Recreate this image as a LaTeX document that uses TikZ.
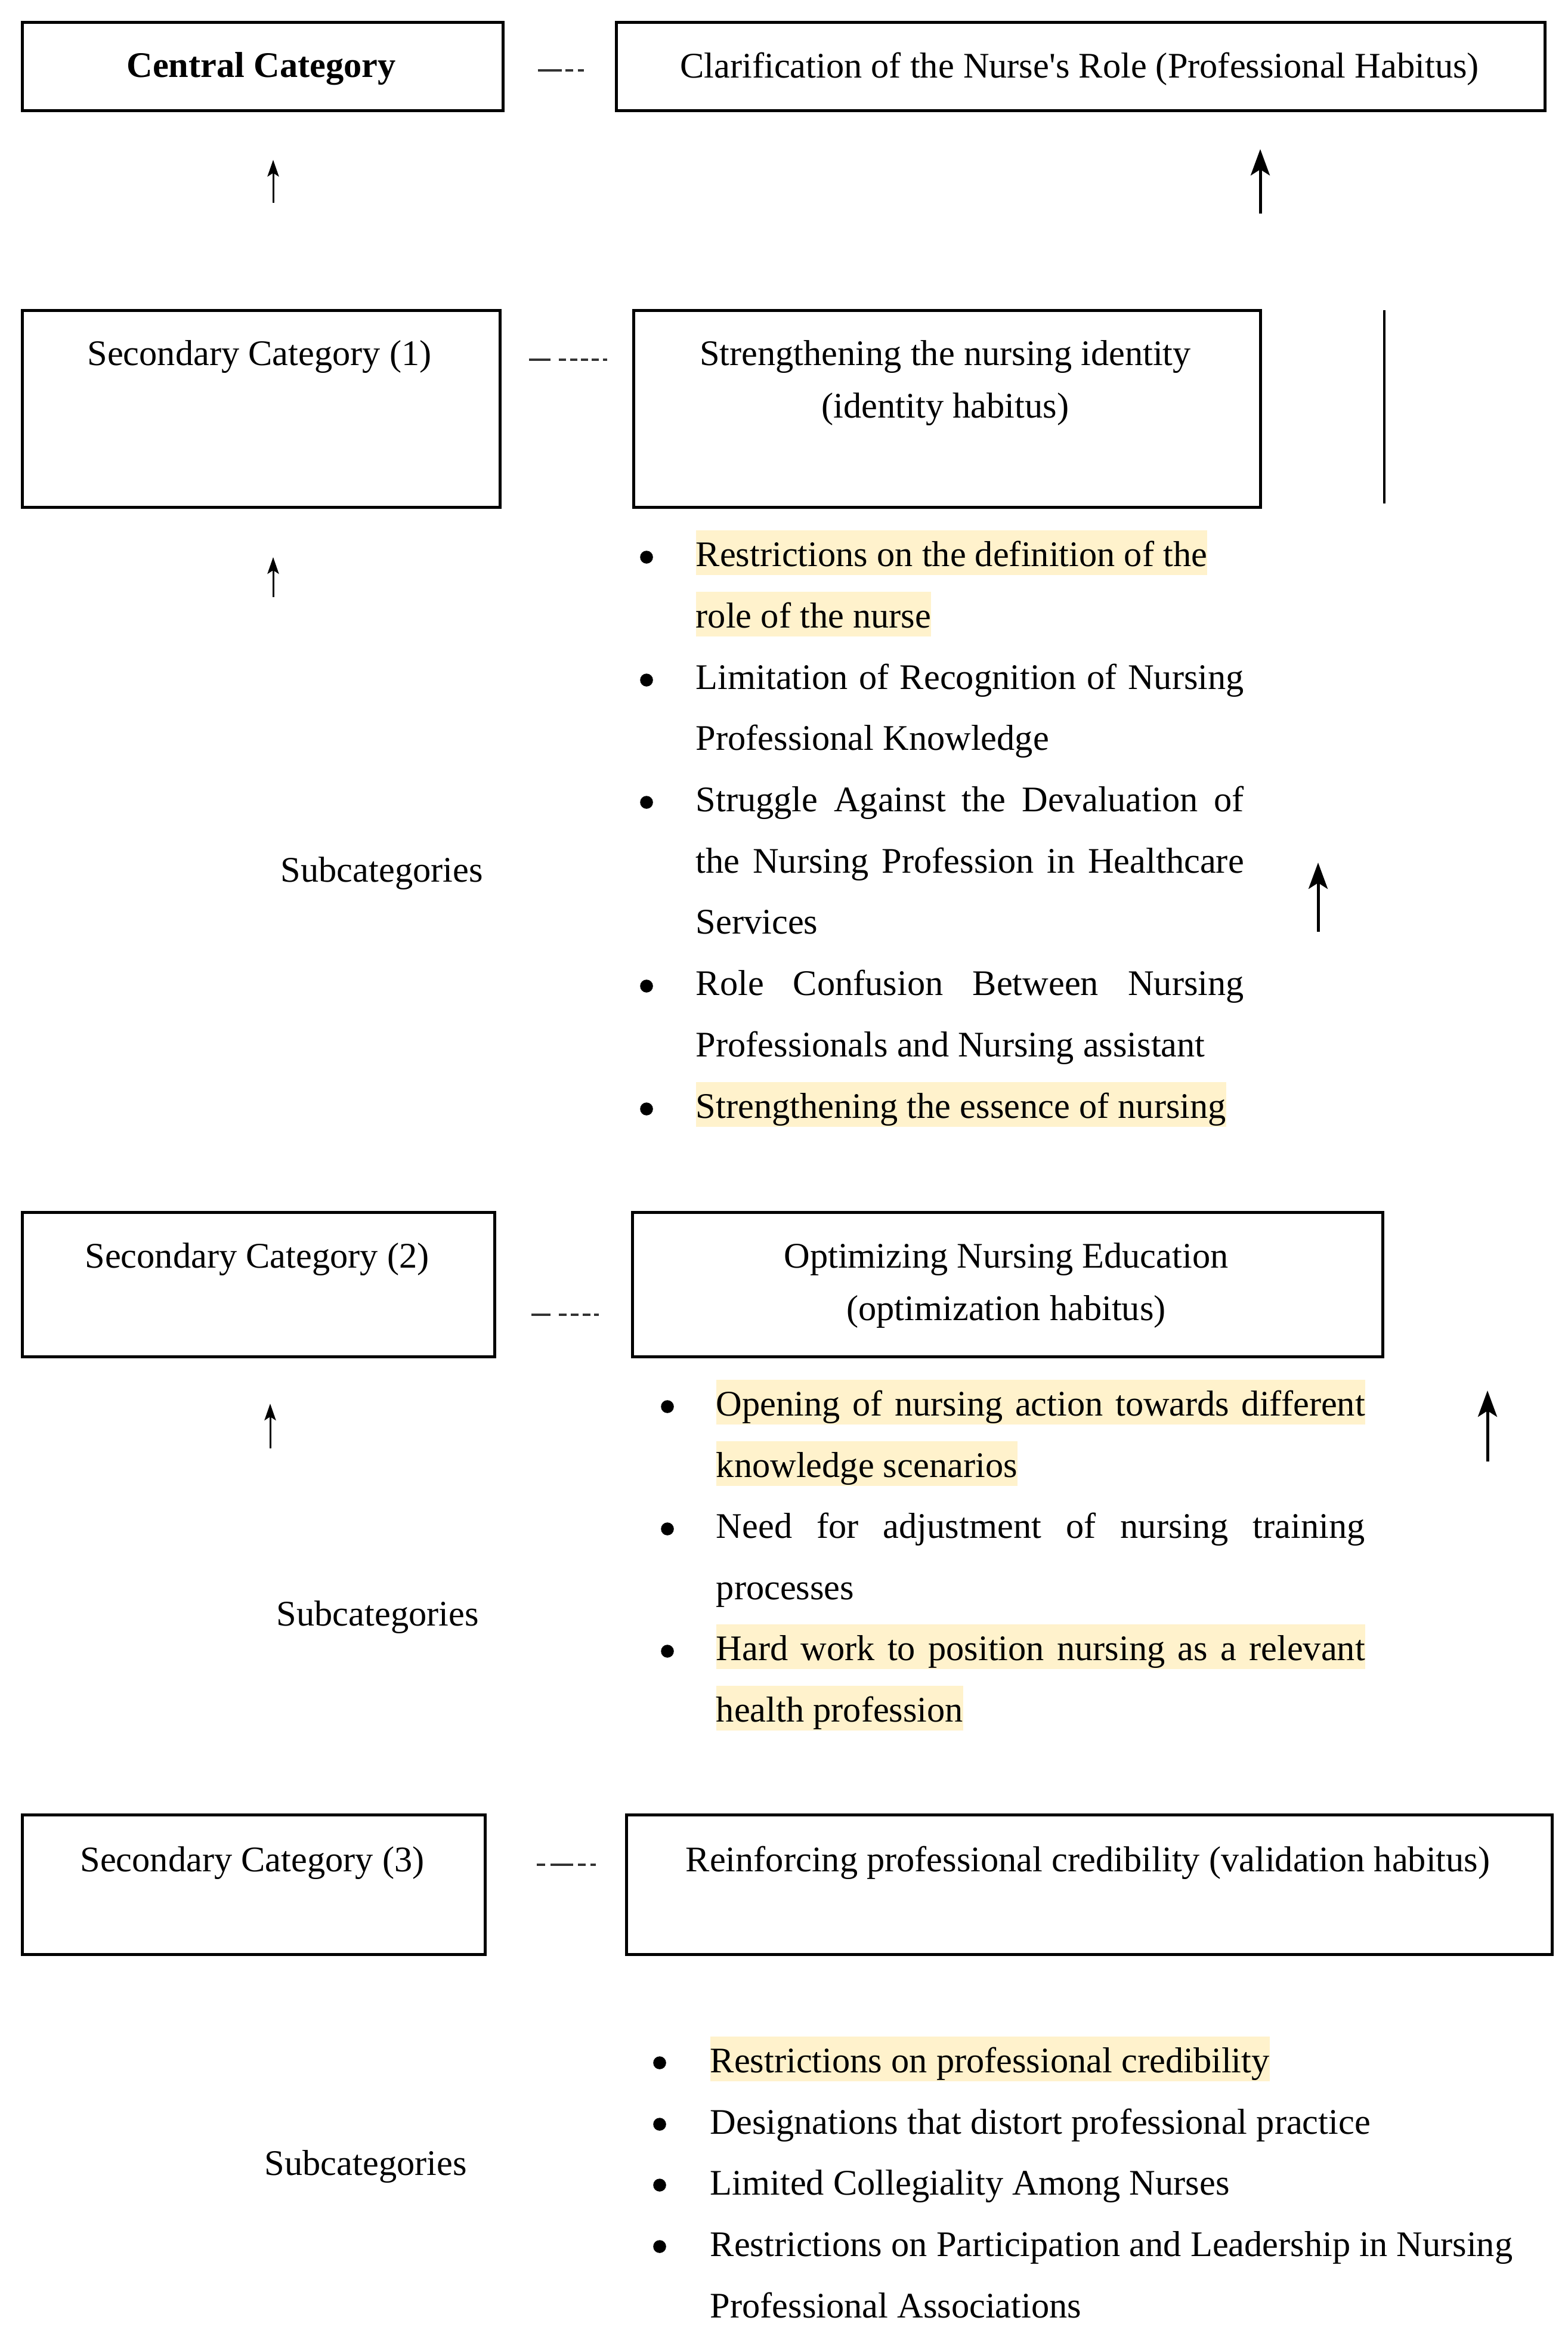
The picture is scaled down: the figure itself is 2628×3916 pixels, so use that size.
\documentclass[tikz,border=0pt]{standalone}
\usepackage{fontspec}
\setmainfont{Liberation Serif}
\usetikzlibrary{arrows.meta,calc}
\definecolor{hl}{HTML}{FFF2CC}
\newcommand{\jA}[1]{\makebox[229.75pt][s]{#1}}
\newcommand{\jB}[1]{\makebox[272pt][s]{#1}}
\tikzset{
  box/.style={draw=black, line width=1.3pt, inner sep=0pt, anchor=north west},
  txt/.style={inner sep=0pt, font=\fontsize{15.1}{18}\selectfont, text=black},
  hltxt/.style={txt, fill=hl, text height=15pt, text depth=3.75pt},
  bul/.style={circle, fill=black, inner sep=0pt, minimum size=5.4pt},
  thinarr/.style={line width=0.75pt, -{Stealth[length=7pt,width=4.8pt,inset=1.5pt]}},
  thickarr/.style={line width=1.25pt, -{Stealth[length=11pt,width=8pt,inset=2.5pt]}},
  conn/.style={line width=1pt, draw=black!80},
}
\begin{document}
\begin{tikzpicture}[x=0.25pt, y=-0.25pt]
\useasboundingbox[fill=white] (0,0) rectangle (2628,3916);

% ---------- boxes ----------
\node[box, minimum width=806*0.25pt, minimum height=148*0.25pt] (c0) at (35,35) {};
\node[box, minimum width=1557*0.25pt, minimum height=148*0.25pt] (c1) at (1031,35) {};
\node[box, minimum width=801*0.25pt, minimum height=330*0.25pt] (s1) at (35,518) {};
\node[box, minimum width=1051*0.25pt, minimum height=330*0.25pt] (i1) at (1060,518) {};
\node[box, minimum width=792*0.25pt, minimum height=242*0.25pt] (s2) at (35,2030) {};
\node[box, minimum width=1258*0.25pt, minimum height=242*0.25pt] (o2) at (1058,2030) {};
\node[box, minimum width=776*0.25pt, minimum height=234*0.25pt] (s3) at (35,3040) {};
\node[box, minimum width=1552*0.25pt, minimum height=234*0.25pt] (v3) at (1048,3040) {};

% ---------- box texts ----------
\node[txt, anchor=base, font=\fontsize{15.1}{18}\selectfont\bfseries] (t0) at (438,130) {Central Category};
\node[txt, anchor=base] (t1) at (1810,131) {Clarification of the Nurse\textquotesingle s Role (Professional Habitus)};
\node[txt, anchor=base] (t2) at (435,613) {Secondary Category (1)};
\node[txt, anchor=base] (t3a) at (1585,613) {Strengthening the nursing identity};
\node[txt, anchor=base] (t3b) at (1585,700) {(identity habitus)};
\node[txt, anchor=base] (t4) at (431,2125) {Secondary Category (2)};
\node[txt, anchor=base] (t5a) at (1687,2125) {Optimizing Nursing Education};
\node[txt, anchor=base] (t5b) at (1687,2213) {(optimization habitus)};
\node[txt, anchor=base] (t6) at (423,3137) {Secondary Category (3)};
\node[txt, anchor=base] (t7) at (1824,3137) {Reinforcing professional credibility (validation habitus)};

% ---------- dashed connectors ----------
\draw[conn, dash pattern=on 10pt off 1.5pt on 3.25pt off 2pt on 3.75pt off 20pt,
      shorten <=14pt, shorten >=13pt]
  ($(c0.east)+(0,6)$) -- ($(c1.west)+(0,6)$);
\draw[conn, dash pattern=on 9pt off 3.5pt on 3pt off 1.6pt on 3pt off 1.6pt on 3pt off 1.6pt on 3pt off 1.6pt on 3pt off 20pt,
      shorten <=11.5pt, shorten >=10.5pt]
  ($(s1.east)+(0,-83)$) -- ($(i1.west)+(0,-83)$);
\draw[conn, dash pattern=on 8pt off 3.5pt on 3.25pt off 1.67pt on 3.25pt off 1.67pt on 3.25pt off 1.67pt on 3.25pt off 20pt,
      shorten <=14.75pt, shorten >=13.5pt]
  ($(s2.east)+(0,50)$) -- ($(o2.west)+(0,50)$);
\draw[conn, dash pattern=on 3.5pt off 2.25pt on 9.5pt off 2pt on 3.25pt off 2pt on 3.5pt off 20pt,
      shorten <=21pt, shorten >=12.25pt]
  ($(s3.east)+(0,-34)$) -- ($(v3.west)+(0,-34)$);

% ---------- arrows ----------
\coordinate (a1s) at (458,340);  \coordinate (a1e) at (458,268);
\coordinate (a2s) at (2113,358); \coordinate (a2e) at (2113,250);
\coordinate (a3s) at (458,1001); \coordinate (a3e) at (458,934);
\coordinate (a4s) at (2210,1562); \coordinate (a4e) at (2210,1446);
\coordinate (a5s) at (453,2428); \coordinate (a5e) at (453,2353);
\coordinate (a6s) at (2494,2450); \coordinate (a6e) at (2494,2331);
\draw[thinarr] (a1s) -- (a1e);
\draw[thickarr] (a2s) -- (a2e);
\draw[thinarr] (a3s) -- (a3e);
\draw[thickarr] (a4s) -- (a4e);
\draw[thinarr] (a5s) -- (a5e);
\draw[thickarr] (a6s) -- (a6e);
\coordinate (v1s) at (2321,520); \coordinate (v1e) at (2321,844);
\draw[line width=1.1pt] (v1s) -- (v1e);

% ---------- Subcategories labels ----------
\node[txt, anchor=base west] (sc1) at (470,1478) {Subcategories};
\node[txt, anchor=base west] (sc2) at (463,2725) {Subcategories};
\node[txt, anchor=base west] (sc3) at (443,3646) {Subcategories};

% ---------- list 1 ----------
\node[bul] (b11) at (1084,934) {};
\node[bul] (b12) at (1084,1140) {};
\node[bul] (b13) at (1084,1345) {};
\node[bul] (b14) at (1084,1653) {};
\node[bul] (b15) at (1084,1859) {};
\node[hltxt, anchor=base west] (l101) at (1166,949) {Restrictions on the definition of the\hspace{7pt}};
\node[hltxt, anchor=base west] (l102) at (1166,1052) {role of the nurse};
\node[txt, anchor=base west] (l103) at (1166,1155) {\jA{Limitation of Recognition of Nursing}};
\node[txt, anchor=base west] (l104) at (1166,1257) {Professional Knowledge};
\node[txt, anchor=base west] (l105) at (1166,1360) {\jA{Struggle Against the Devaluation of}};
\node[txt, anchor=base west] (l106) at (1166,1463) {\jA{the Nursing Profession in Healthcare}};
\node[txt, anchor=base west] (l107) at (1166,1565) {Services};
\node[txt, anchor=base west] (l108) at (1166,1668) {\jA{Role Confusion Between Nursing}};
\node[txt, anchor=base west] (l109) at (1166,1771) {Professionals and Nursing assistant};
\node[hltxt, anchor=base west] (l110) at (1166,1874) {Strengthening the essence of nursing};

% ---------- list 2 ----------
\node[bul] (b21) at (1119,2358) {};
\node[bul] (b22) at (1119,2563) {};
\node[bul] (b23) at (1119,2768) {};
\node[hltxt, anchor=base west] (l201) at (1200,2373) {\jB{Opening of nursing action towards different}};
\node[hltxt, anchor=base west] (l202) at (1200,2476) {knowledge scenarios};
\node[txt, anchor=base west] (l203) at (1200,2578) {\jB{Need for adjustment of nursing training}};
\node[txt, anchor=base west] (l204) at (1200,2681) {processes};
\node[hltxt, anchor=base west] (l205) at (1200,2783) {\jB{Hard work to position nursing as a relevant}};
\node[hltxt, anchor=base west] (l206) at (1200,2886) {health profession};

% ---------- list 3 ----------
\node[bul] (b31) at (1106,3458) {};
\node[bul] (b32) at (1106,3561) {};
\node[bul] (b33) at (1106,3663) {};
\node[bul] (b34) at (1106,3766) {};
\node[hltxt, anchor=base west] (l301) at (1190,3474) {Restrictions on professional credibility};
\node[txt, anchor=base west] (l302) at (1190,3577) {Designations that distort professional practice};
\node[txt, anchor=base west] (l303) at (1190,3679) {Limited Collegiality Among Nurses};
\node[txt, anchor=base west] (l304) at (1190,3782) {Restrictions on Participation and Leadership in Nursing};
\node[txt, anchor=base west] (l305) at (1190,3885) {Professional Associations};
\end{tikzpicture}
\end{document}
